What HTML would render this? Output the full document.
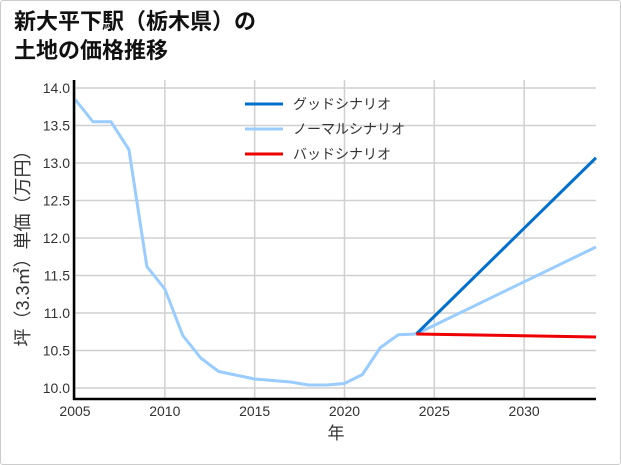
<!DOCTYPE html>
<html><head><meta charset="utf-8">
<style>
html,body{margin:0;padding:0;background:#fff;}
body{width:621px;height:465px;overflow:hidden;position:relative;font-family:"Liberation Sans","Noto Sans CJK JP",sans-serif;}
#frame{position:absolute;left:0;top:0;width:619px;height:463px;border:1px solid #ccc;border-radius:3px;}
#title{position:absolute;left:14px;top:7px;font-size:22px;font-weight:bold;line-height:29px;color:#111;font-family:"Liberation Sans","Noto Sans CJK JP",sans-serif;}
</style></head><body>
<div id="frame"></div>
<div id="title">新大平下駅（栃木県）の<br>土地の価格推移</div>
<svg id="chart" width="621" height="465" style="position:absolute;left:0;top:0"></svg>
<script>
const years=[2005,2006,2007,2008,2009,2010,2011,2012,2013,2014,2015,2016,2017,2018,2019,2020,2021,2022,2023,2024];
const history=[13.85,13.55,13.55,13.18,11.62,11.32,10.70,10.40,10.22,10.17,10.12,10.10,10.08,10.04,10.04,10.06,10.18,10.54,10.71,10.72];
const projYears=[2024,2034];
const goodVals=[10.72,13.07];
const normalVals=[10.72,11.88];
const badVals=[10.72,10.68];
const xTicks=[2005,2010,2015,2020,2025,2030];
const yTicks=[10.0,10.5,11.0,11.5,12.0,12.5,13.0,13.5,14.0];
const legendLabels=["グッドシナリオ","ノーマルシナリオ","バッドシナリオ"];
const legendColors=["#0070cc","#99ccff","#ee0000"];

const NS="http://www.w3.org/2000/svg";
const svg=document.getElementById('chart');
const L=75,R=596,T=80,B=399;
function xs(v){return L+(v-2005)*(R-L)/29;}
function ys(v){return 388-(v-10)*75;}
function mk(tag,attrs,parent){const e=document.createElementNS(NS,tag);for(const k in attrs)e.setAttribute(k,attrs[k]);(parent||svg).appendChild(e);return e;}

yTicks.forEach(t=>{
  const g=mk('line',{x1:L,x2:R,y1:ys(t),y2:ys(t),stroke:'#d0d0d0','stroke-width':1.5});
  
  
  const tx=mk('text',{x:L-5,y:ys(t)+5,'text-anchor':'end','font-size':14,fill:'#333'});
  tx.textContent=t.toFixed(1);
  
  
});
xTicks.forEach(t=>{
  const g=mk('line',{x1:xs(t),x2:xs(t),y1:T,y2:B,stroke:'#d0d0d0','stroke-width':1.5});
  
  
  const tx=mk('text',{x:xs(t),y:B+17,'text-anchor':'middle','font-size':14,fill:'#333'});
  tx.textContent=t;
  
  
});
function line(xv,yv,color,name){
  const p=mk('polyline',{points:xv.map((x,i)=>xs(x)+','+ys(yv[i])).join(' '),fill:'none',stroke:color,'stroke-width':3,'stroke-linejoin':'round'});
  
  
}
line(years,history,'#99ccff','history-line');
line(projYears,normalVals,'#99ccff','normal-scenario-line');
line(projYears,goodVals,'#0070cc','good-scenario-line');
line(projYears,badVals,'#ee0000','bad-scenario-line');

const ax1=mk('line',{x1:L-1,x2:L-1,y1:T,y2:B+1,stroke:'#000','stroke-width':2.5});


const ax2=mk('line',{x1:L-2,x2:R,y1:B,y2:B,stroke:'#000','stroke-width':2.5});



const xt=mk('text',{x:336,y:439,'text-anchor':'middle','font-size':17,fill:'#333'});
xt.textContent='年';


const yt=mk('text',{x:0,y:0,'text-anchor':'middle','font-size':18,fill:'#333',transform:'translate(29,244) rotate(-90)'});
yt.textContent='坪（3.3㎡）単価（万円）';



legendLabels.forEach((lab,i)=>{
  const y=104+i*25;
  const l=mk('line',{x1:245,x2:283,y1:y,y2:y,stroke:legendColors[i],'stroke-width':3});
  
  
  const t=mk('text',{x:293,y:y+5,'font-size':14,fill:'#333'});
  t.textContent=lab;
  
  
});
</script>
</body></html>
